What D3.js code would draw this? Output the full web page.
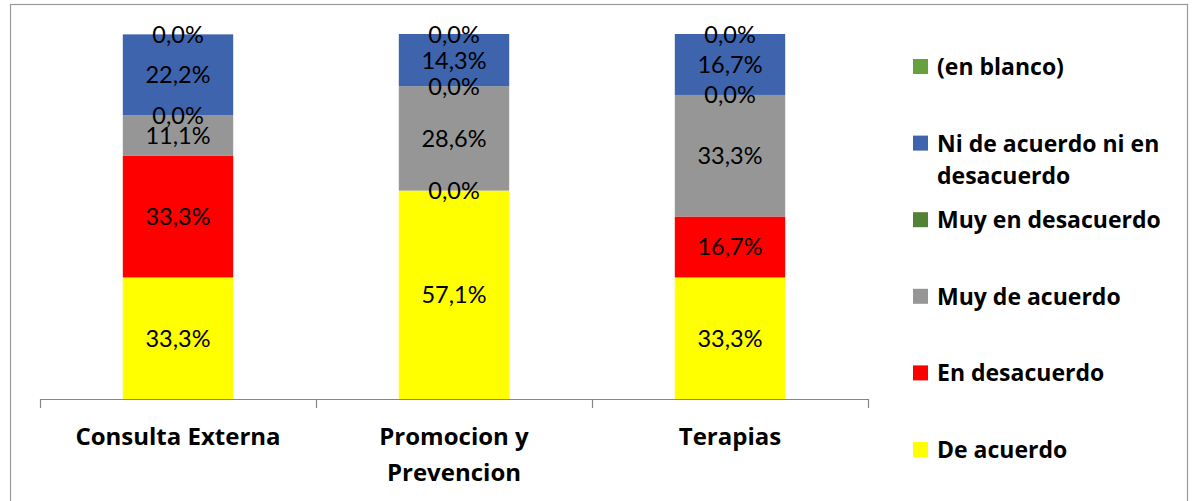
<!DOCTYPE html>
<html>
<head>
<meta charset="utf-8">
<script src="https://cdn.jsdelivr.net/npm/d3@7"></script>
<style>
  html, body { margin: 0; padding: 0; background: #ffffff; }
  svg { display: block; }
  text { font-family: Lato, "Open Sans", sans-serif; fill: #000; }
  .bold { font-family: "Open Sans", Lato, sans-serif; font-weight: bold; }
</style>
</head>
<body>
<svg id="chart" width="1192" height="501"></svg>
<script>
// Categories along the x axis
const categories = ["Consulta Externa", "Promocion y Prevencion", "Terapias"];

// Response series, stacked bottom to top (percent of answers)
const seriesNames = [
  "De acuerdo",
  "En desacuerdo",
  "Muy de acuerdo",
  "Muy en desacuerdo",
  "Ni de acuerdo ni en desacuerdo",
  "(en blanco)"
];
const deAcuerdo        = [33.3, 57.1, 33.3];
const enDesacuerdo     = [33.3, 0.0, 16.7];
const muyDeAcuerdo     = [11.1, 28.6, 33.3];
const muyEnDesacuerdo  = [0.0, 0.0, 0.0];
const niDeAcuerdo      = [22.2, 14.3, 16.7];
const enBlanco         = [0.0, 0.0, 0.0];

const seriesColors = ["#FFFF00", "#FF0000", "#969696", "#538135", "#3D64AD", "#67A03D"];

// Legend lists series top to bottom, in reverse stacking order
const legendOrder = seriesNames.slice().reverse();

const allSeries = [deAcuerdo, enDesacuerdo, muyDeAcuerdo, muyEnDesacuerdo, niDeAcuerdo, enBlanco];
const rows = categories.map((c, i) => {
  const r = { category: c };
  seriesNames.forEach((s, k) => { r[s] = allSeries[k][i]; });
  return r;
});

const svg = d3.select("#chart");

// outer chart frame
svg.append("rect")
  .attr("x", 10.5).attr("y", 4.5)
  .attr("width", 1177).attr("height", 510)
  .attr("fill", "#fff")
  .attr("stroke", "#999999").attr("stroke-width", 1.2);

const plot = { left: 40, right: 868, top: 34, bottom: 399 };

const x = d3.scaleBand()
  .domain(categories)
  .range([plot.left, plot.right])
  .paddingInner(0.6)
  .paddingOuter(0.3);

const y = d3.scaleLinear().domain([0, 100]).range([plot.bottom, plot.top]);
const color = d3.scaleOrdinal().domain(seriesNames).range(seriesColors);

const stacked = d3.stack().keys(seriesNames)(rows);

// bars
const layers = svg.append("g").selectAll("g")
  .data(stacked).join("g")
  .attr("fill", d => color(d.key));

layers.selectAll("rect")
  .data(d => d).join("rect")
  .attr("x", d => x(d.data.category))
  .attr("width", x.bandwidth())
  .attr("y", d => y(d[1]))
  .attr("height", d => y(d[0]) - y(d[1]));

// data labels at each segment's middle
const fmt = v => v.toFixed(1).replace(".", ",") + "%";
const labels = svg.append("g");
stacked.forEach(layer => {
  layer.forEach(d => {
    labels.append("text")
      .attr("x", x(d.data.category) + x.bandwidth() / 2)
      .attr("y", (y(d[0]) + y(d[1])) / 2 + 8.5)
      .attr("text-anchor", "middle")
      .style("font-size", "23.5px")
      .text(fmt(d[1] - d[0]));
  });
});

// category axis with ticks on the band boundaries
const edges = d3.scaleLinear().domain([0, categories.length]).range([plot.left, plot.right]);
const axis = svg.append("g")
  .attr("transform", `translate(0,${plot.bottom})`)
  .call(d3.axisBottom(edges).tickValues(d3.range(categories.length + 1)).tickFormat("").tickSize(9).tickSizeOuter(0));
axis.selectAll("path, line").attr("stroke", "#868686").attr("stroke-width", 1.2);

// wrap text into lines no wider than maxW
function wrapLines(textSel, words, maxW) {
  const lines = [];
  let cur = [];
  const probe = textSel.append("tspan");
  words.forEach(w => {
    const test = cur.concat([w]).join(" ");
    probe.text(test);
    if (probe.node().getComputedTextLength() > maxW && cur.length) {
      lines.push(cur.join(" "));
      cur = [w];
    } else {
      cur.push(w);
    }
  });
  if (cur.length) lines.push(cur.join(" "));
  probe.remove();
  return lines;
}

const catG = svg.append("g");
categories.forEach(c => {
  const t = catG.append("text")
    .attr("class", "bold")
    .attr("text-anchor", "middle")
    .style("font-size", "24px");
  const lines = wrapLines(t, c.split(" "), x.step() - 40);
  lines.forEach((ln, i) => {
    t.append("tspan")
      .attr("x", x(c) + x.bandwidth() / 2)
      .attr("y", 444.5 + i * 36.5)
      .text(ln);
  });
});

// legend
const ly = d3.scalePoint().domain(legendOrder).range([66.5, 449.5]);
const legend = svg.append("g");
legendOrder.forEach(name => {
  const cy = ly(name);
  legend.append("rect")
    .attr("x", 913).attr("y", cy - 7.5)
    .attr("width", 15).attr("height", 15)
    .attr("fill", color(name));
  const t = legend.append("text")
    .attr("class", "bold")
    .style("font-size", "23px");
  const lines = wrapLines(t, name.split(" "), 242);
  lines.forEach((ln, i) => {
    t.append("tspan")
      .attr("x", 937)
      .attr("y", cy + 8.5 + i * 32.5)
      .text(ln);
  });
});
</script>
</body>
</html>
